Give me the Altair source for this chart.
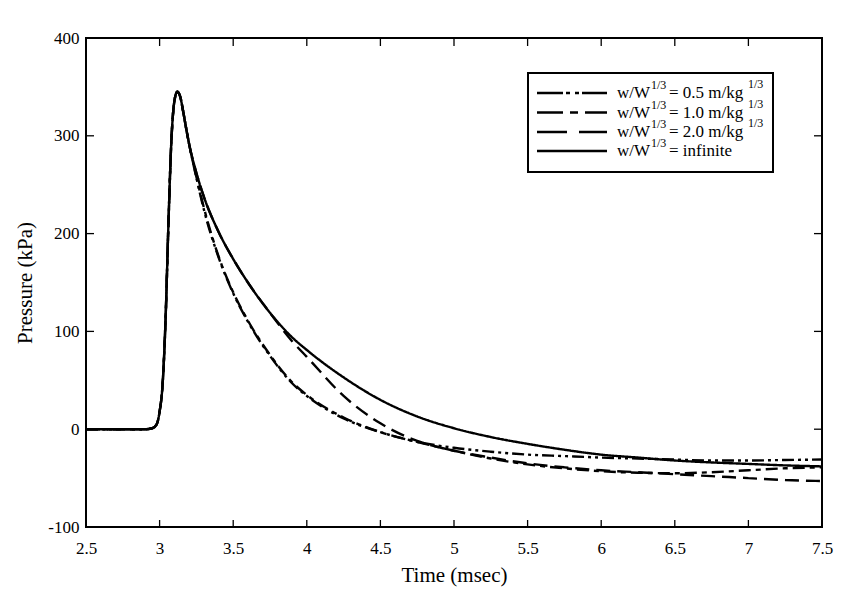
import altair as alt
import pandas as pd

# ---- data ----
t = [2.5, 2.8, 2.9, 2.95, 2.98, 3.0, 3.02, 3.04, 3.06, 3.08, 3.1, 3.12, 3.14, 3.16,
     3.18, 3.2, 3.25, 3.3, 3.4, 3.5, 3.6, 3.75, 3.9, 4.0, 4.25, 4.5, 4.75, 5.0,
     5.25, 5.5, 5.75, 6.0, 6.25, 6.5, 6.75, 7.0, 7.25, 7.5]

p_inf = [0, 0, 0, 1, 5, 18, 45, 110, 210, 295, 335, 345, 340, 325,
         308, 292, 262, 238, 202, 174, 150, 119, 94, 81, 53, 30, 13, 1,
         -8, -15, -21, -26, -29, -32, -34, -35.5, -37, -38]

p_05 = [0, 0, 0, 1, 5, 18, 45, 110, 210, 295, 335, 345, 340, 325,
        308, 292, 257, 225, 176, 139, 110, 75, 47, 34, 11, -3, -13, -19,
        -23, -26, -27.5, -29, -30, -31, -32, -32, -31.5, -31]

p_10 = [0, 0, 0, 1, 5, 18, 45, 110, 210, 295, 335, 345, 340, 325,
        308, 292, 258, 227, 177, 140, 111, 76, 48, 35, 12, -3, -13, -22,
        -30, -36, -40, -43, -44.5, -45, -44, -42, -40, -39]

p_20 = [0, 0, 0, 1, 5, 18, 45, 110, 210, 295, 335, 345, 340, 325,
        308, 292, 262, 238, 202, 174, 150, 119, 90, 74, 34, 6, -12, -22,
        -29, -35, -39, -42, -44, -46, -48, -50, -52, -53]

series_keys = ["0.5", "1.0", "2.0", "infinite"]
series_vals = [p_05, p_10, p_20, p_inf]
legend_nums = ["0.5", "1.0", "2.0", None]

x_ticks = [3, 3.5, 4, 4.5, 5, 5.5, 6, 6.5, 7]
y_ticks = [0, 100, 200, 300]
x_labels = [2.5, 3, 3.5, 4, 4.5, 5, 5.5, 6, 6.5, 7, 7.5]
y_labels = [-100, 0, 100, 200, 300, 400]

rows = []
for key, vals in zip(series_keys, series_vals):
    for ti, pi in zip(t, vals):
        rows.append({"t": ti, "p": pi, "s": key})
df = pd.DataFrame(rows)

W, H = 736, 489
FONT = "Liberation Serif"

dash_range = [[12, 4, 3, 4, 3, 4], [12, 5, 5, 5], [14, 7], [1, 0]]

xscale = alt.Scale(domain=[2.5, 7.5], nice=False, zero=False)
yscale = alt.Scale(domain=[-100, 400], nice=False, zero=False)

lines = alt.Chart(df).mark_line(color="black", strokeWidth=2.4, interpolate="monotone", clip=True).encode(
    x=alt.X("t:Q", scale=xscale, title="Time (msec)",
            axis=alt.Axis(values=x_labels, labelExpr="'' + datum.value", labelFlush=False,
                          labelPadding=13, titleY=48, titleBaseline="middle",
                          labelOverlap=False, labelFont=FONT, titleFont=FONT,
                          labelFontSize=17, titleFontSize=21)),
    y=alt.Y("p:Q", scale=yscale, title="Pressure (kPa)",
            axis=alt.Axis(values=y_labels, labelExpr="'' + datum.value", labelFlush=False,
                          labelPadding=7, titleX=-61, titleY=H / 2, titleAngle=-90,
                          titleAlign="center", titleBaseline="middle", labelOverlap=False,
                          labelFont=FONT, titleFont=FONT, labelFontSize=17, titleFontSize=21)),
    strokeDash=alt.StrokeDash("s:N", scale=alt.Scale(domain=series_keys, range=dash_range), legend=None),
    detail="s:N",
)

xt = pd.DataFrame({"v": x_ticks})
yt = pd.DataFrame({"v": y_ticks})
tick_layers = [
    alt.Chart(xt).mark_rule(color="black", strokeWidth=1.3).encode(x="v:Q", y=alt.value(H - 7), y2=alt.value(H)),
    alt.Chart(xt).mark_rule(color="black", strokeWidth=1.3).encode(x="v:Q", y=alt.value(0), y2=alt.value(8)),
    alt.Chart(yt).mark_rule(color="black", strokeWidth=1.3).encode(y="v:Q", x=alt.value(0), x2=alt.value(8)),
    alt.Chart(yt).mark_rule(color="black", strokeWidth=1.3).encode(y="v:Q", x=alt.value(W - 8), x2=alt.value(W)),
]

one = alt.Data(values=[{}])
legend_layers = [
    alt.Chart(one).mark_rect(fill="white", stroke="black", strokeWidth=2).encode(
        x=alt.value(442), x2=alt.value(687), y=alt.value(35), y2=alt.value(134))
]
legend_dash = [[26, 3, 4, 5, 4, 3], [26, 7, 8, 7], [30, 12], [1, 0]]
base_y = [60, 79.5, 99, 118]
for i in range(4):
    by = base_y[i]
    legend_layers.append(
        alt.Chart(one).mark_rule(color="black", strokeWidth=2.6, strokeDash=legend_dash[i]).encode(
            x=alt.value(451), x2=alt.value(521), y=alt.value(by - 5)))
    legend_layers.append(
        alt.Chart(one).mark_text(text="w/W", font=FONT, fontSize=17, align="left", baseline="alphabetic").encode(
            x=alt.value(531), y=alt.value(by)))
    legend_layers.append(
        alt.Chart(one).mark_text(text="1/3", font=FONT, fontSize=12, align="left", baseline="alphabetic").encode(
            x=alt.value(565), y=alt.value(by - 9)))
    if legend_nums[i] is not None:
        legend_layers.append(
            alt.Chart(one).mark_text(text="= " + legend_nums[i] + " m/kg", font=FONT, fontSize=17, align="left",
                                     baseline="alphabetic").encode(x=alt.value(583), y=alt.value(by)))
        legend_layers.append(
            alt.Chart(one).mark_text(text="1/3", font=FONT, fontSize=12, align="left", baseline="alphabetic").encode(
                x=alt.value(662), y=alt.value(by - 10)))
    else:
        legend_layers.append(
            alt.Chart(one).mark_text(text="= infinite", font=FONT, fontSize=17, align="left",
                                     baseline="alphabetic").encode(x=alt.value(583), y=alt.value(by)))

chart = alt.layer(lines, *tick_layers, *legend_layers).properties(
    width=W, height=H,
    padding={"left": 86, "top": 38, "right": 23, "bottom": 65},
    autosize=alt.AutoSizeParams(type="none"),
    background="white",
).configure_view(
    stroke="black", strokeWidth=2
).configure_axis(
    domain=False, ticks=False, grid=False,
    labelFont=FONT, labelFontSize=17, labelColor="black",
    titleFont=FONT, titleFontSize=21, titleColor="black", titleFontWeight="normal",
)

chart.save("out.html", embed_options={"renderer": "svg", "actions": False})
